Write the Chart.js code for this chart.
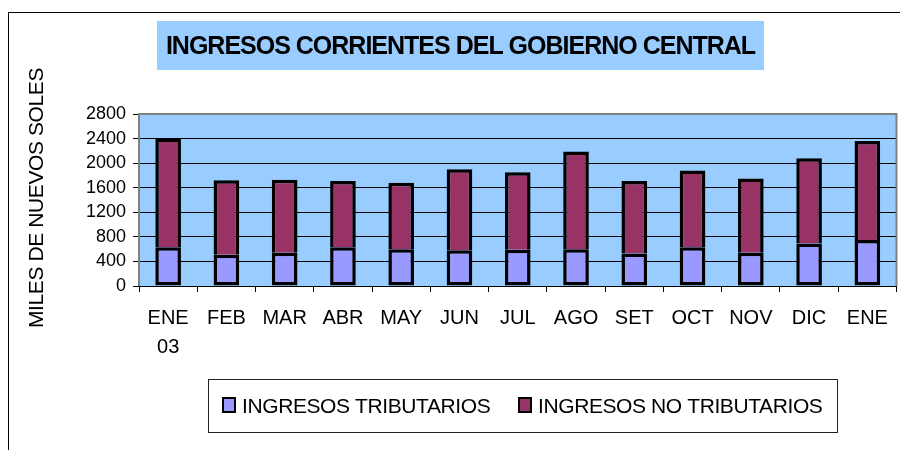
<!DOCTYPE html>
<html>
<head>
<meta charset="utf-8">
<script src="https://cdn.jsdelivr.net/npm/chart.js@4.4.1/dist/chart.umd.min.js"></script>
<style>
  html, body { margin: 0; padding: 0; background: #fff; }
  #wrap { width: 900px; height: 450px; }
</style>
</head>
<body>
<div id="wrap"><canvas id="chart" width="900" height="450"></canvas></div>
<script>
// data
const months = [['ENE', '03'], 'FEB', 'MAR', 'ABR', 'MAY', 'JUN', 'JUL', 'AGO', 'SET', 'OCT', 'NOV', 'DIC', 'ENE'];
const tributarios = [630, 510, 540, 630, 600, 580, 590, 600, 530, 630, 540, 690, 750];
const noTributarios = [1770, 1210, 1190, 1080, 1080, 1320, 1260, 1590, 1180, 1250, 1210, 1390, 1610];
const yTicks = [0, 400, 800, 1200, 1600, 2000, 2400, 2800];

const titleText = 'INGRESOS CORRIENTES DEL GOBIERNO CENTRAL';
const yTitleText = 'MILES DE NUEVOS SOLES';
const legendLabels = ['INGRESOS TRIBUTARIOS', 'INGRESOS NO TRIBUTARIOS'];

const PLOT_BG = '#99CCFF';
const TRIB = '#9999FF';
const NOTRIB = '#993366';
const FONT = "'Liberation Sans', Arial, sans-serif";

// background of plot area, drawn before the grid
const plotBg = {
    id: 'plotBg',
    beforeDraw(chart) {
        const { ctx, chartArea: a } = chart;
        ctx.save();
        ctx.fillStyle = '#fff';
        ctx.fillRect(0, 0, chart.width, chart.height);
        ctx.fillStyle = PLOT_BG;
        ctx.fillRect(a.left, a.top, a.right - a.left, a.bottom - a.top);
        ctx.restore();
    },
    beforeDatasetsDraw(chart) {
        const { ctx, chartArea: a } = chart;
        ctx.save();
        ctx.strokeStyle = '#808080';
        ctx.lineWidth = 2;
        ctx.beginPath();
        ctx.moveTo(a.left, a.bottom);
        ctx.lineTo(a.left, a.top);
        ctx.lineTo(a.right, a.top);
        ctx.lineTo(a.right, a.bottom);
        ctx.stroke();
        ctx.strokeStyle = '#000';
        ctx.lineWidth = 1;
        ctx.beginPath();
        ctx.moveTo(a.left, a.bottom + 0.5);
        ctx.lineTo(a.right, a.bottom + 0.5);
        ctx.stroke();
        ctx.restore();
    },
};

// title box, y title, legend box, outer frame
const decor = {
    id: 'decor',
    afterDraw(chart) {
        const ctx = chart.ctx;
        ctx.save();

        // outer frame
        ctx.strokeStyle = '#000';
        ctx.lineWidth = 1;
        ctx.beginPath();
        ctx.moveTo(8.5, 450);
        ctx.lineTo(8.5, 12.5);
        ctx.lineTo(900, 12.5);
        ctx.stroke();

        // title
        ctx.fillStyle = PLOT_BG;
        ctx.fillRect(157, 21, 607, 49);
        ctx.fillStyle = '#000';
        ctx.font = 'bold 25px ' + FONT;
        ctx.letterSpacing = '-1px';
        ctx.textAlign = 'center';
        ctx.textBaseline = 'alphabetic';
        ctx.fillText(titleText, 460.5, 53.5);

        // y axis title
        ctx.save();
        ctx.translate(43, 198);
        ctx.rotate(-Math.PI / 2);
        ctx.font = '21px ' + FONT;
        ctx.letterSpacing = '-0.4px';
        ctx.fillText(yTitleText, 0, 0);
        ctx.restore();

        // legend
        ctx.strokeStyle = '#222';
        ctx.lineWidth = 1;
        ctx.strokeRect(208.5, 379.5, 629, 53);
        ctx.font = '21px ' + FONT;
        ctx.letterSpacing = '-0.4px';
        ctx.textAlign = 'left';
        const items = [
            { x: 222, color: TRIB, label: legendLabels[0] },
            { x: 518, color: NOTRIB, label: legendLabels[1] },
        ];
        items.forEach(it => {
            ctx.fillStyle = '#000';
            ctx.fillRect(it.x, 397, 14, 16);
            ctx.fillStyle = it.color;
            ctx.fillRect(it.x + 2, 399, 10, 12);
            ctx.fillStyle = '#000';
            ctx.fillText(it.label, it.x + 20, 412.5);
        });

        ctx.restore();
    },
};

new Chart(document.getElementById('chart'), {
    type: 'bar',
    data: {
        labels: months,
        datasets: [
            {
                label: legendLabels[0],
                data: tributarios,
                backgroundColor: TRIB,
                borderColor: '#000',
                borderWidth: 3.5,
                borderSkipped: false,
                inflateAmount: 0,
                categoryPercentage: 1,
                barPercentage: 0.44,
            },
            {
                label: legendLabels[1],
                data: noTributarios,
                backgroundColor: NOTRIB,
                borderColor: '#000',
                borderWidth: 3.5,
                borderSkipped: 'start',   // the boundary line comes from the lower bar
                inflateAmount: 0,
                categoryPercentage: 1,
                barPercentage: 0.44,
            },
        ],
    },
    options: {
        responsive: false,
        animation: false,
        layout: { padding: { top: 114, right: 2, left: 0, bottom: 0 } },
        plugins: {
            legend: { display: false },
            title: { display: false },
            tooltip: { enabled: false },
        },
        scales: {
            x: {
                stacked: true,
                afterFit: (s) => { s.height = 164; },
                grid: {
                    display: true,
                    offset: true,
                    drawOnChartArea: false,
                    color: '#000',
                    tickLength: 6,
                },
                border: { display: false },
                ticks: {
                    color: '#000',
                    padding: 12,
                    maxRotation: 0,
                    autoSkip: false,
                    font: { family: FONT, size: 20, lineHeight: 1.45 },
                },
            },
            y: {
                stacked: true,
                min: 0,
                max: 2800,
                afterFit: (s) => { s.width = 139; },
                afterBuildTicks: (s) => { s.ticks = yTicks.map(v => ({ value: v })); },
                grid: { color: '#000', lineWidth: 1, tickLength: 6 },
                border: { display: false },
                ticks: {
                    color: '#000',
                    padding: 7,
                    autoSkip: false,
                    callback: (v) => String(v),
                    font: { family: FONT, size: 18 },
                },
            },
        },
    },
    plugins: [plotBg, decor],
});
</script>
</body>
</html>
